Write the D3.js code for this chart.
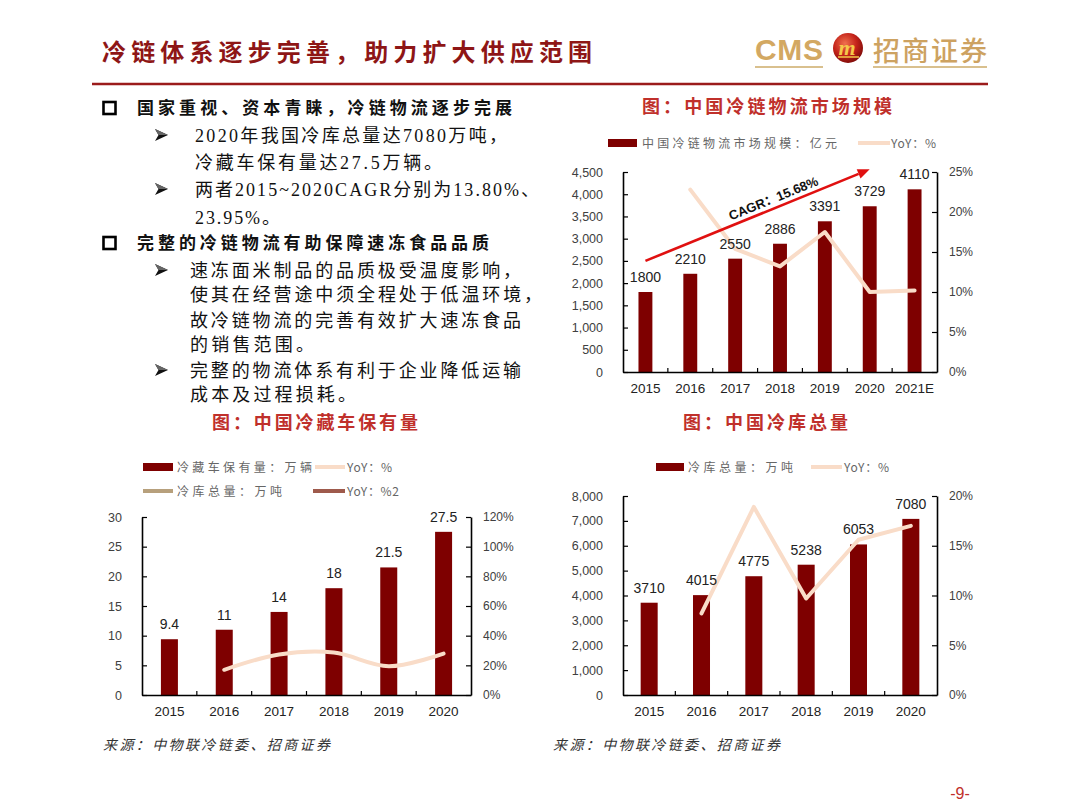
<!DOCTYPE html>
<html><head><meta charset="utf-8">
<script src="https://cdn.jsdelivr.net/npm/d3@7"></script>
<style>body{margin:0;background:#fff}svg{display:block}</style>
</head><body>
<svg id="c" width="1080" height="810"></svg>
<script>
// ---------- DATA ----------
const marketYears = ["2015","2016","2017","2018","2019","2020","2021E"];
const marketSize = [1800,2210,2550,2886,3391,3729,4110];
const marketYoY = [null,22.8,15.4,13.2,17.5,10.0,10.2];
const marketLeftTicks = [0,500,1000,1500,2000,2500,3000,3500,4000,4500];
const marketRightTicks = [0,5,10,15,20,25];
const cagrLabel = "CAGR：15.68%";
const cagrFrom = ["2015", 2500];
const cagrTo = ["2020", 4560];

const truckYears = ["2015","2016","2017","2018","2019","2020"];
const truckCount = [9.4,11,14,18,21.5,27.5];
const truckYoY = [null,17.0,27.3,28.6,19.4,27.9];
const truckLeftTicks = [0,5,10,15,20,25,30];
const truckRightTicks = [0,20,40,60,80,100,120];

const storageYears = ["2015","2016","2017","2018","2019","2020"];
const storageTotal = [3710,4015,4775,5238,6053,7080];
const storageYoY = [null,8.2,18.9,9.7,15.6,17.0];
const storageLeftTicks = [0,1000,2000,3000,4000,5000,6000,7000,8000];
const storageRightTicks = [0,5,10,15,20];

const pageTitle = "冷链体系逐步完善，助力扩大供应范围";
const bullet1 = "国家重视、资本青睐，冷链物流逐步完展";
const sub1 = ["2020年我国冷库总量达7080万吨，","冷藏车保有量达27.5万辆。","两者2015~2020CAGR分别为13.80%、","23.95%。"];
const bullet2 = "完整的冷链物流有助保障速冻食品品质";
const sub2 = ["速冻面米制品的品质极受温度影响，","使其在经营途中须全程处于低温环境，","故冷链物流的完善有效扩大速冻食品","的销售范围。","完整的物流体系有利于企业降低运输","成本及过程损耗。"];
const sourceText = "来源：中物联冷链委、招商证券";

// ---------- STYLE ----------
const BAR = "#7E0000", PEACH = "#F9DCC8";
const CJK = "'Noto Sans CJK SC', sans-serif";
const NUM = "'Liberation Sans', Arial, 'Noto Sans CJK SC', sans-serif";
const SERIF = "'Liberation Serif', 'Noto Sans CJK SC', serif";
const svg = d3.select("#c");

function txt(x, y, s, o) {
  const t = svg.append("text").attr("x", x).attr("y", y).text(s)
    .attr("font-family", o.family || CJK).attr("font-size", o.size || 14)
    .attr("fill", o.fill || "#000");
  if (o.weight) t.attr("font-weight", o.weight);
  if (o.anchor) t.attr("text-anchor", o.anchor);
  if (o.style) t.attr("font-style", o.style);
  if (o.len) t.attr("textLength", o.len).attr("lengthAdjust", "spacing");
  return t;
}

// ---------- HEADER ----------
txt(102, 61, pageTitle, {size: 24, weight: 700, fill: "#8E1616", len: 490});
svg.append("line").attr("x1", 92).attr("x2", 988).attr("y1", 84).attr("y2", 84)
  .attr("stroke", "#9B1B1B").attr("stroke-width", 2.6);

// logo
const defs = svg.append("defs");
const rg = defs.append("radialGradient").attr("id", "emb").attr("cx", "40%").attr("cy", "35%").attr("r", "70%");
rg.append("stop").attr("offset", "0%").attr("stop-color", "#F0704E");
rg.append("stop").attr("offset", "55%").attr("stop-color", "#C4231A");
rg.append("stop").attr("offset", "100%").attr("stop-color", "#7A0A08");
txt(755, 60, "CMS", {family: "'Liberation Sans', Arial", size: 30, weight: 700, fill: "#D3A862", len: 68});
svg.append("circle").attr("cx", 848).attr("cy", 48).attr("r", 15).attr("fill", "url(#emb)");
txt(847, 55, "m", {family: "'Liberation Serif', serif", size: 22, weight: 700, style: "italic", fill: "#F5C84A", anchor: "middle"});
svg.append("line").attr("x1", 838).attr("x2", 859).attr("y1", 57).attr("y2", 57).attr("stroke", "#F5C84A").attr("stroke-width", 1.5);
txt(873, 61, "招商证券", {size: 27, weight: 500, fill: "#CDA261", len: 114});
[[755, 823], [873, 987]].forEach(([a, b]) =>
  svg.append("line").attr("x1", a).attr("x2", b).attr("y1", 67).attr("y2", 67)
    .attr("stroke", "#D9C08E").attr("stroke-width", 2));

// ---------- LEFT TEXT ----------
function box(y) {
  svg.append("rect").attr("x", 103.5).attr("y", y).attr("width", 12).attr("height", 12)
    .attr("fill", "none").attr("stroke", "#000").attr("stroke-width", 2.6);
}
function arrowHead(x, cy) {
  svg.append("path").attr("d", `M${x},${cy - 6}L${x + 13},${cy}L${x},${cy + 6}L${x + 3.5},${cy}Z`).attr("fill", "#111");
  svg.append("path").attr("d", `M${x},${cy - 6}L${x + 13},${cy}L${x + 3.5},${cy}Z`).attr("fill", "#666");
}
box(102);
txt(137, 114, bullet1, {size: 17, weight: 700, fill: "#111", len: 375});
const sub1Len = [312, 247, 344, 85];
const sub1Y = [135, 162, 189, 217];
sub1.forEach((s, i) => {
  if (i === 0 || i === 2) arrowHead(155, sub1Y[i]);
  txt(195, sub1Y[i] + 6.5, s, {family: SERIF, size: 18, fill: "#111", len: sub1Len[i]});
});
box(237);
txt(137, 249, bullet2, {size: 17, weight: 700, fill: "#111", len: 352});
const sub2Len = [331, 352, 331, 124, 331, 166];
const sub2Y = [270, 294.5, 320, 344, 370, 394];
sub2.forEach((s, i) => {
  if (i === 0 || i === 4) arrowHead(155, sub2Y[i]);
  txt(190, sub2Y[i] + 6.5, s, {family: SERIF, size: 18, fill: "#111", len: sub2Len[i]});
});

// ---------- CHART TITLES ----------
const TITLE_RED = "#C0302B";
txt(642, 113, "图：中国冷链物流市场规模", {size: 18, weight: 700, fill: TITLE_RED, len: 250});
txt(212, 429, "图：中国冷藏车保有量", {size: 18, weight: 700, fill: TITLE_RED, len: 206});
txt(683, 429, "图：中国冷库总量", {size: 18, weight: 700, fill: TITLE_RED, len: 165});

// ---------- LEGENDS ----------
function legRect(x1, x2, cy) { svg.append("rect").attr("x", x1).attr("y", cy - 4).attr("width", x2 - x1).attr("height", 8).attr("fill", BAR); }
function legLine(x1, x2, cy, c) { svg.append("line").attr("x1", x1).attr("x2", x2).attr("y1", cy).attr("y2", cy).attr("stroke", c).attr("stroke-width", 4); }
function legText(x, cy, s, len) { txt(x, cy + 4.5, s, {size: 12, fill: "#666", len: len}); }

legRect(608, 637, 143); legText(642, 143, "中国冷链物流市场规模：亿元", 195);
legLine(858, 890, 143, PEACH); legText(891, 143, "YoY：%", 45);

legRect(143, 173, 467); legText(177, 467, "冷藏车保有量：万辆", 135);
legLine(315, 345, 467, PEACH); legText(347, 467, "YoY：%", 45);
legLine(143, 173, 491, "#B7A07C"); legText(177, 491, "冷库总量：万吨", 105);
legLine(313, 345, 491, "#9E5A4C"); legText(347, 491, "YoY：%2", 52);

legRect(656, 684, 467); legText(688, 467, "冷库总量：万吨", 105);
legLine(811, 842, 467, PEACH); legText(844, 467, "YoY：%", 45);

// ---------- CHARTS ----------
function drawChart(o) {
  const g = svg.append("g");
  const x = d3.scaleBand().domain(o.cats).range([o.left, o.right]);
  const y = d3.scaleLinear().domain([0, o.yMax]).range([o.bottom, o.top]);
  const yR = d3.scaleLinear().domain([0, o.rMax]).range([o.bottom, o.top]);
  const bw = x.bandwidth() * o.barRatio;
  const cx = c => x(c) + x.bandwidth() / 2;
  const rows = o.cats.map((c, i) => ({c, v: o.values[i], r: o.yoy[i]}));

  g.selectAll("rect.bar").data(rows).join("rect").attr("class", "bar")
    .attr("x", d => cx(d.c) - bw / 2).attr("y", d => y(d.v))
    .attr("width", bw).attr("height", d => o.bottom - y(d.v)).attr("fill", BAR);

  const line = d3.line().defined(d => d.r != null).x(d => cx(d.c)).y(d => yR(d.r)).curve(o.curve || d3.curveLinear);
  g.append("path").attr("d", line(rows)).attr("fill", "none").attr("stroke", PEACH)
    .attr("stroke-width", 4).attr("stroke-linecap", "round").attr("stroke-linejoin", "round");

  g.selectAll("text.lab").data(rows).join("text").attr("class", "lab")
    .attr("x", d => cx(d.c)).attr("y", d => y(d.v) - 10).attr("text-anchor", "middle")
    .attr("font-family", NUM).attr("font-size", 14).attr("fill", "#222").text(d => o.labFmt(d.v));

  const styleAxis = (sel, size, fill) => {
    sel.selectAll("text").attr("font-family", NUM).attr("font-size", size).attr("fill", fill);
    sel.selectAll("line").attr("stroke", "#000").attr("stroke-width", 1.2);
    sel.select(".domain").attr("stroke", "#000").attr("stroke-width", 1.6);
  };
  g.append("g").attr("transform", `translate(${o.left},0)`)
    .call(d3.axisLeft(y).tickValues(o.lTicks).tickFormat(o.lFmt).tickSizeInner(-5).tickSizeOuter(0).tickPadding(20))
    .call(s => styleAxis(s, 12.5, "#404040"));
  g.append("g").attr("transform", `translate(${o.right},0)`)
    .call(d3.axisRight(yR).tickValues(o.rTicks).tickFormat(d => d + "%").tickSizeInner(-5).tickSizeOuter(0).tickPadding(12))
    .call(s => styleAxis(s, 12, "#404040"));
  g.append("g").attr("transform", `translate(0,${o.bottom})`)
    .call(d3.axisBottom(x).tickSize(0).tickPadding(11))
    .call(s => styleAxis(s, 13.5, "#222"));
  g.selectAll("line.sep").data(o.cats.slice(1)).join("line").attr("class", "sep")
    .attr("x1", c => x(c)).attr("x2", c => x(c)).attr("y1", o.bottom).attr("y2", o.bottom - 4)
    .attr("stroke", "#000").attr("stroke-width", 1.2);
  return {x, y, yR, cx};
}

const mkt = drawChart({cats: marketYears, values: marketSize, yoy: marketYoY,
  left: 623, right: 937, top: 172, bottom: 372, yMax: 4500, rMax: 25, barRatio: 0.31,
  lTicks: marketLeftTicks, rTicks: marketRightTicks, lFmt: d3.format(","), labFmt: d => d});

// CAGR arrow
(function () {
  const x1 = mkt.cx(cagrFrom[0]), y1 = mkt.y(cagrFrom[1]);
  const x2 = mkt.cx(cagrTo[0]), y2 = mkt.y(cagrTo[1]);
  const ang = Math.atan2(y2 - y1, x2 - x1);
  const hl = 12, hw = 5;
  const bx = x2 - hl * Math.cos(ang), by = y2 - hl * Math.sin(ang);
  svg.append("line").attr("x1", x1).attr("y1", y1).attr("x2", bx).attr("y2", by)
    .attr("stroke", "#E01010").attr("stroke-width", 2.6);
  svg.append("path").attr("d", `M${x2},${y2}L${bx + hw * Math.sin(ang)},${by - hw * Math.cos(ang)}L${bx - hw * Math.sin(ang)},${by + hw * Math.cos(ang)}Z`)
    .attr("fill", "#E01010");
  const mx = (x1 + x2) / 2 + 21 * Math.cos(ang), my = (y1 + y2) / 2 + 21 * Math.sin(ang);
  svg.append("text").attr("transform", `translate(${mx},${my}) rotate(${ang * 180 / Math.PI})`)
    .attr("y", -5).attr("text-anchor", "middle").attr("font-family", NUM).attr("font-weight", 700)
    .attr("font-size", 13).attr("fill", "#111").text(cagrLabel);
})();

drawChart({cats: truckYears, values: truckCount, yoy: truckYoY,
  left: 142, right: 471, top: 517, bottom: 695, yMax: 30, rMax: 120, barRatio: 0.31,
  lTicks: truckLeftTicks, rTicks: truckRightTicks, lFmt: d => d, labFmt: d => d,
  curve: d3.curveCatmullRom});

drawChart({cats: storageYears, values: storageTotal, yoy: storageYoY,
  left: 623, right: 937, top: 496, bottom: 695, yMax: 8000, rMax: 20, barRatio: 0.325,
  lTicks: storageLeftTicks, rTicks: storageRightTicks, lFmt: d3.format(","), labFmt: d => d});

// ---------- SOURCES & PAGE ----------
txt(103, 750, sourceText, {size: 14, style: "italic", fill: "#333", len: 227});
txt(553, 750, sourceText, {size: 14, style: "italic", fill: "#333", len: 227});
txt(960, 799, "-9-", {family: NUM, size: 16, fill: "#C0302B", anchor: "middle"});
</script>
</body></html>
